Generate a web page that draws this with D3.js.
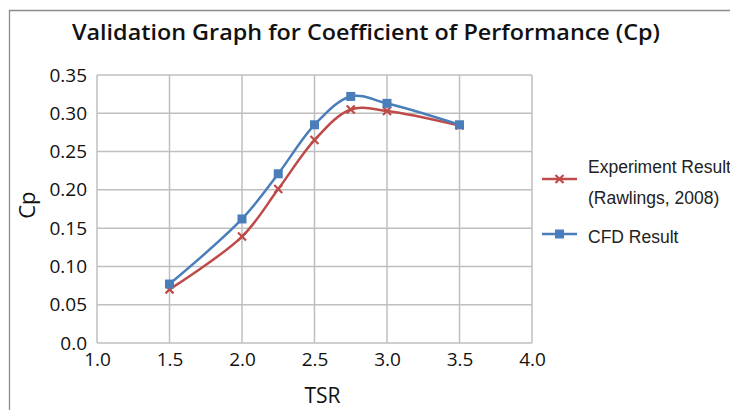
<!DOCTYPE html>
<html><head><meta charset="utf-8">
<script src="https://cdn.jsdelivr.net/npm/d3@7"></script>
<style>body{margin:0;background:#fff}svg{display:block}</style>
</head><body>
<svg id="c" width="730" height="410"></svg>
<script>
const tsr = [1.5, 2.0, 2.25, 2.5, 2.75, 3.0, 3.5];
const experiment = [0.070, 0.139, 0.201, 0.265, 0.305, 0.303, 0.284];
const cfd = [0.077, 0.162, 0.221, 0.285, 0.322, 0.313, 0.285];
const xTicks = [1.0, 1.5, 2.0, 2.5, 3.0, 3.5, 4.0];
const yTicks = [0, 0.05, 0.10, 0.15, 0.20, 0.25, 0.30, 0.35];
const yTickLabels = ["0.0", "0.05", "0.10", "0.15", "0.20", "0.25", "0.30", "0.35"];
const seriesNames = ["Experiment Result", "CFD Result"];

const svg = d3.select("#c");
const x = d3.scaleLinear().domain([1.0, 4.0]).range([97, 532]);
const y = d3.scaleLinear().domain([0, 0.35]).range([343, 75]);
const ff = "'Open Sans', sans-serif";

// outer border (left & top)
svg.append("path").attr("d", "M9.5,410 V10.5 H730").attr("fill", "none").attr("stroke", "#8c8c8c").attr("stroke-width", 1.3);

// title
svg.append("text").attr("x", 366).attr("y", 40).attr("text-anchor", "middle")
  .attr("font-family", ff).attr("font-weight", "600").attr("font-size", 21)
  .attr("textLength", 588).attr("lengthAdjust", "spacingAndGlyphs")
  .attr("fill", "#111").text("Validation Graph for Coefficient of Performance (Cp)");

// grid
const grid = svg.append("g").attr("stroke", "#bfbfbf").attr("stroke-width", 1.5);
grid.selectAll(".gx").data(xTicks).join("line")
  .attr("x1", d => x(d)).attr("x2", d => x(d)).attr("y1", y(0.35)).attr("y2", y(0));
grid.selectAll(".gy").data(yTicks).join("line")
  .attr("y1", d => y(d)).attr("y2", d => y(d)).attr("x1", x(1.0)).attr("x2", x(4.0));

// axes labels via d3 axes
const xAxis = d3.axisBottom(x).tickValues(xTicks).tickFormat(d3.format(".1f")).tickSize(0).tickPadding(10);
const gx = svg.append("g").attr("transform", `translate(0,${y(0)})`).call(xAxis);
gx.select(".domain").remove();
gx.selectAll("text").attr("font-family", ff).attr("font-size", 19).attr("fill", "#111");

const yAxis = d3.axisLeft(y).tickValues(yTicks).tickFormat((d, i) => yTickLabels[i]).tickSize(0).tickPadding(10);
const gy = svg.append("g").attr("transform", `translate(${x(1.0)},0)`).call(yAxis);
gy.select(".domain").remove();
gy.selectAll("text").attr("font-family", ff).attr("font-size", 19).attr("fill", "#111");

// axis titles
svg.append("text").attr("x", x(2.5) + 8).attr("y", 403).attr("text-anchor", "middle")
  .attr("font-family", ff).attr("font-size", 21).attr("fill", "#111").text("TSR");
svg.append("text").attr("transform", `translate(35,${y(0.18)}) rotate(-90)`).attr("text-anchor", "middle")
  .attr("font-family", ff).attr("font-size", 22).attr("fill", "#111").text("Cp");

const red = "#be4b48", blue = "#4a7ebb";
const line = d3.line().x(d => x(d[0])).y(d => y(d[1])).curve(d3.curveCatmullRom.alpha(0.5));
const expData = tsr.map((t, i) => [t, experiment[i]]);
const cfdData = tsr.map((t, i) => [t, cfd[i]]);

svg.append("path").datum(expData).attr("d", line).attr("fill", "none").attr("stroke", red).attr("stroke-width", 2.5);
svg.append("path").datum(cfdData).attr("d", line).attr("fill", "none").attr("stroke", blue).attr("stroke-width", 2.5);

function cross(g, cx, cy, s) {
  g.append("path").attr("d", `M${cx-s},${cy-s}L${cx+s},${cy+s}M${cx-s},${cy+s}L${cx+s},${cy-s}`)
    .attr("stroke", red).attr("stroke-width", 2.2).attr("fill", "none");
}
const mk = svg.append("g");
expData.forEach(d => cross(mk, x(d[0]), y(d[1]), 4));
svg.append("g").selectAll("rect").data(cfdData).join("rect")
  .attr("x", d => x(d[0]) - 4.5).attr("y", d => y(d[1]) - 4.5).attr("width", 9).attr("height", 9).attr("fill", blue);

// legend
const lg = svg.append("g");
lg.append("line").attr("x1", 542).attr("x2", 577).attr("y1", 179).attr("y2", 179).attr("stroke", red).attr("stroke-width", 2.5);
cross(lg, 559.5, 179, 4);
lg.append("line").attr("x1", 542).attr("x2", 577).attr("y1", 234).attr("y2", 234).attr("stroke", blue).attr("stroke-width", 2.5);
lg.append("rect").attr("x", 555).attr("y", 229.5).attr("width", 9).attr("height", 9).attr("fill", blue);
const lf = "'Liberation Sans', Arial, sans-serif";
const lfs = 17.5;
lg.append("text").attr("x", 588).attr("y", 173).attr("font-family", lf).attr("font-size", lfs).attr("fill", "#222").text("Experiment Result");
lg.append("text").attr("x", 588).attr("y", 204).attr("font-family", lf).attr("font-size", lfs).attr("fill", "#222").text("(Rawlings, 2008)");
lg.append("text").attr("x", 588).attr("y", 243).attr("font-family", lf).attr("font-size", lfs).attr("fill", "#222").text("CFD Result");
</script>
</body></html>
